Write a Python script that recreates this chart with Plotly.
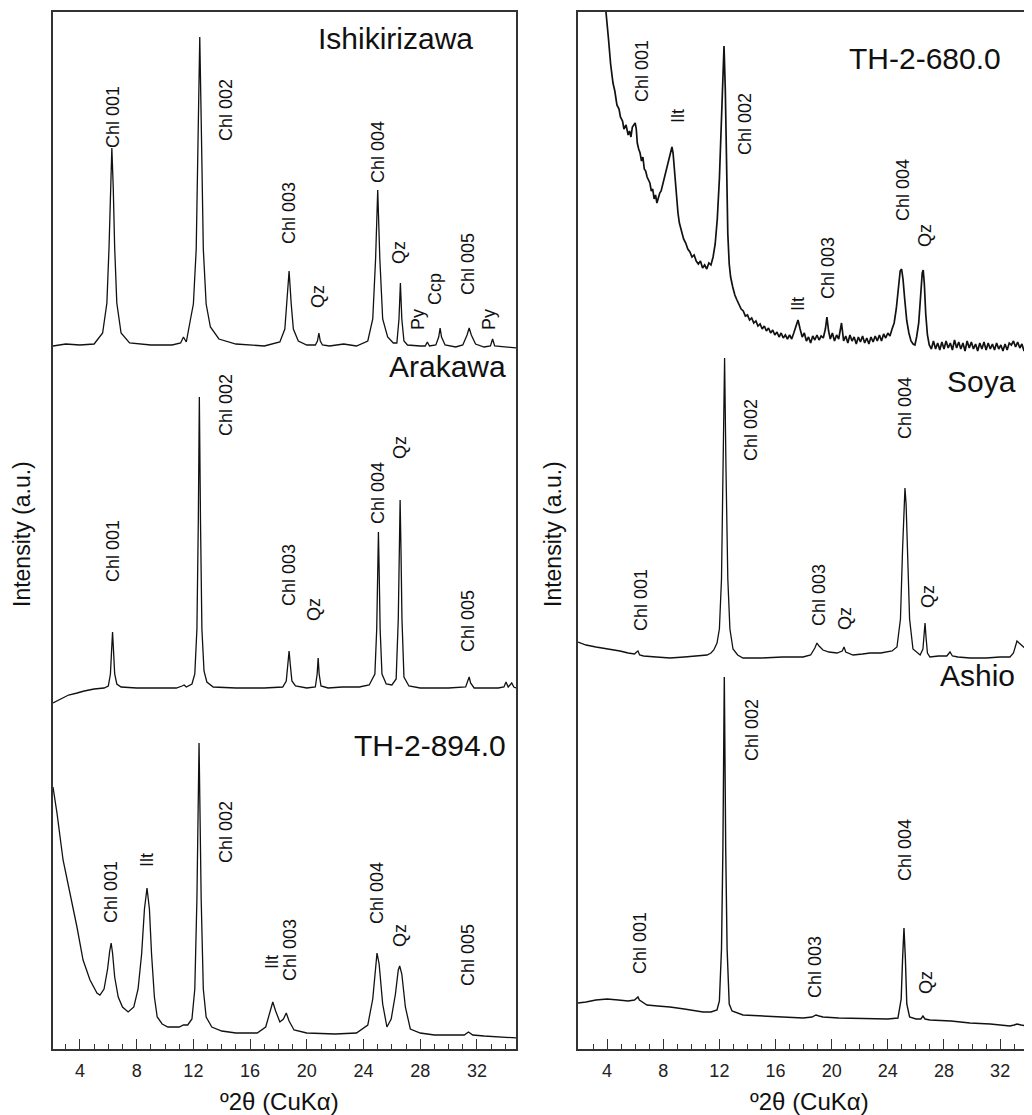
import plotly.graph_objects as go

# ---------------- data (2theta, intensity a.u., stacked as drawn) ----------------
# Left panel
ishi_x = [2.1, 3.0, 4.0, 5.0, 5.6, 5.9, 6.05, 6.15, 6.25, 6.35, 6.45, 6.6, 6.9, 7.5, 9.0, 10.5,
          11.1, 11.3, 11.5, 11.8, 12.0, 12.2, 12.35, 12.45, 12.55, 12.7, 12.9, 13.2, 13.8, 15.0, 17.0,
          18.1, 18.45, 18.6, 18.75, 18.9, 19.05, 19.4, 20.0, 20.6, 20.75, 20.85, 20.95, 21.1, 21.6,
          22.6, 23.5, 24.3, 24.65, 24.85, 25.0, 25.15, 25.35, 25.7, 26.1, 26.35, 26.5, 26.6, 26.7,
          26.85, 27.1, 28.0, 28.35, 28.5, 28.65, 29.1, 29.3, 29.4, 29.5, 29.75, 30.5, 31.0, 31.3,
          31.45, 31.6, 31.9, 32.5, 32.95, 33.1, 33.25, 34.0, 34.8]
ishi_y = [703, 705, 704, 705, 716, 746, 801, 861, 901, 861, 801, 746, 716, 706, 704, 704,
          706, 712, 707, 730, 745, 800, 930, 1012, 930, 800, 745, 722, 710, 705, 703,
          707, 720, 745, 778, 745, 720, 708, 704, 704, 708, 716, 708, 704, 703,
          705, 703, 708, 730, 790, 859, 790, 730, 712, 706, 706, 730, 766, 730,
          708, 704, 703, 703, 707, 703, 704, 712, 721, 712, 704, 702, 704, 714,
          721, 714, 705, 702, 703, 710, 703, 702, 701]

arak_x = [2.1, 2.6, 3.2, 3.8, 4.3, 5.0, 5.7, 6.0, 6.15, 6.22, 6.3, 6.38, 6.45, 6.6, 6.9, 8.0,
          9.5, 10.8, 11.2, 11.35, 11.5, 11.9, 12.1, 12.25, 12.35, 12.42, 12.5, 12.6, 12.75, 12.95,
          13.4, 15.0, 17.0, 18.3, 18.55, 18.68, 18.75, 18.83, 18.95, 19.2, 20.0, 20.6, 20.73, 20.8,
          20.87, 21.0, 21.5, 22.5, 23.7, 24.4, 24.8, 24.93, 25.0, 25.05, 25.1, 25.17, 25.3, 25.6,
          26.0, 26.3, 26.45, 26.52, 26.58, 26.64, 26.71, 26.85, 27.2, 28.0, 30.0, 31.2, 31.35,
          31.45, 31.55, 31.8, 33.5, 33.9, 34.05, 34.2, 34.45, 34.6, 34.75]
arak_y = [346, 350, 354, 356, 358, 360, 361, 363, 375, 395, 417, 395, 375, 365, 362, 361,
          361, 361, 363, 364, 362, 365, 375, 420, 530, 652, 530, 420, 378, 367,
          362, 361, 361, 362, 368, 385, 398, 385, 368, 363, 361, 362, 375, 391,
          375, 363, 361, 362, 362, 364, 375, 420, 480, 517, 480, 420, 375, 365,
          364, 370, 430, 500, 549, 500, 430, 372, 363, 361, 361, 362, 367,
          372, 366, 361, 361, 362, 367, 362, 366, 362, 361]

th894_x = [2.1, 2.38, 2.81, 3.3, 3.79, 4.22, 4.71, 5.2, 5.41, 5.7, 5.95, 6.1, 6.2, 6.3, 6.45,
           6.7, 7.0, 7.4, 7.8, 8.1, 8.35, 8.55, 8.73, 8.9, 9.05, 9.25, 9.45, 9.8, 10.2, 11.0,
           11.3, 11.6, 11.9, 12.1, 12.25, 12.4, 12.55, 12.7, 12.9, 13.3, 14.0, 15.0, 16.5, 17.1,
           17.4, 17.6, 17.8, 18.1, 18.35, 18.55, 18.75, 19.1, 20.0, 22.0, 23.5, 24.3, 24.65, 24.85,
           24.95, 25.1, 25.35, 25.65, 25.95, 26.25, 26.45, 26.55, 26.7, 26.95, 27.3, 28.0, 29.0,
           30.0, 31.1, 31.4, 31.7, 32.5, 33.5, 34.8]
th894_y = [262, 236, 189, 156, 122, 89, 69, 56, 54, 60, 80, 98, 106, 96, 72,
           52, 42, 37, 42, 60, 95, 140, 161, 140, 95, 52, 32, 25, 22, 22,
           24, 24, 30, 60, 150, 306, 150, 60, 32, 22, 18, 16, 16, 22,
           38, 47, 38, 27, 30, 36, 28, 19, 16, 15, 16, 24, 50, 85,
           96, 85, 45, 22, 30, 55, 79, 83, 75, 42, 20, 16, 14,
           14, 14, 17, 14, 13, 12, 11]

# Right panel
th680_x = [3.0, 3.5, 3.92, 4.1, 4.25, 4.42, 4.55, 4.7, 4.85, 4.95, 5.1, 5.2, 5.35, 5.5, 5.6, 5.7,
           5.8, 5.9, 6.0, 6.08, 6.15, 6.25, 6.35, 6.45, 6.55, 6.65, 6.75, 6.85, 6.95, 7.05, 7.15,
           7.25, 7.35, 7.45, 7.55, 7.65, 7.75, 7.85, 7.95, 8.05, 8.15, 8.25, 8.35, 8.45, 8.55, 8.62,
           8.7, 8.78, 8.86, 8.95, 9.05, 9.15, 9.3, 9.45, 9.6, 9.75, 9.9, 10.05, 10.2, 10.35, 10.5,
           10.65, 10.8, 10.95, 11.1, 11.25, 11.4, 11.55, 11.7, 11.85, 12.0, 12.15, 12.25, 12.33,
           12.42, 12.5, 12.6, 12.7, 12.8, 12.95, 13.1, 13.25, 13.4, 13.55, 13.7, 13.85, 14.0, 14.15,
           14.3, 14.45, 14.6, 14.75, 14.9, 15.05, 15.2, 15.35, 15.5, 15.65, 15.8, 15.95, 16.1, 16.25,
           16.4, 16.55, 16.7, 16.85, 17.0, 17.15, 17.3, 17.45, 17.6, 17.75, 17.9, 18.05, 18.2, 18.35,
           18.5, 18.65, 18.8, 18.95, 19.1, 19.25, 19.4, 19.55, 19.66, 19.78, 19.9, 20.05, 20.2, 20.35,
           20.5, 20.7, 20.85, 21.0, 21.15, 21.3, 21.45, 21.6, 21.75, 21.9, 22.05, 22.2, 22.35, 22.5,
           22.65, 22.8, 22.95, 23.1, 23.25, 23.4, 23.55, 23.7, 23.85, 24.0, 24.15, 24.3, 24.45, 24.6,
           24.75, 24.88, 24.98, 25.08, 25.2, 25.35, 25.5, 25.65, 25.8, 25.93, 26.05, 26.2, 26.33,
           26.45, 26.52, 26.6, 26.7, 26.82, 26.95, 27.1, 27.25, 27.4, 27.55, 27.7, 27.85, 28.0,
           28.15, 28.3, 28.45, 28.6, 28.75, 28.9, 29.05, 29.2, 29.35, 29.5, 29.65, 29.8, 29.95,
           30.1, 30.25, 30.4, 30.55, 30.7, 30.85, 31.0, 31.15, 31.3, 31.45, 31.6, 31.75, 31.9,
           32.05, 32.2, 32.35, 32.5, 32.65, 32.8, 32.95, 33.1, 33.25, 33.4, 33.55, 33.7, 33.85,
           34.0, 34.15, 34.3]
th680_y = [1250, 1130, 1037, 1010, 985, 966, 958, 944, 940, 932, 928, 920, 924, 914, 918, 912,
           922, 924, 926, 920, 906, 900, 896, 888, 892, 880, 878, 872, 868, 866, 858,
           860, 850, 854, 846, 852, 856, 858, 864, 868, 874, 880, 886, 894, 900, 902,
           896, 882, 866, 850, 836, 826, 818, 810, 806, 800, 797, 792, 794, 788, 785,
           788, 781, 784, 780, 786, 784, 792, 805, 830, 870, 930, 975, 1003,
           960, 880, 815, 785, 772, 762, 754, 749, 744, 740, 738, 733, 734, 729,
           731, 726, 728, 723, 725, 720, 723, 718, 721, 716, 719, 714, 717, 712,
           716, 711, 714, 710, 714, 710, 716, 722, 729, 720, 712, 716, 708, 712,
           706, 713, 709, 714, 709, 713, 711, 720, 732, 718, 710, 716, 708, 714,
           710, 726, 708, 713, 706, 714, 708, 712, 705, 712, 707, 713, 706, 711,
           705, 712, 707, 713, 708, 714, 708, 715, 711, 716, 713, 720, 726, 740,
           760, 778, 780, 770, 750, 728, 716, 708, 705, 704, 712, 726, 752,
           776, 779, 765, 735, 714, 704, 700, 708, 700, 706, 699, 707, 700,
           708, 701, 706, 699, 709, 701, 707, 700, 706, 698, 708, 701, 707,
           700, 705, 698, 706, 700, 707, 699, 706, 700, 705, 699, 706, 700,
           704, 698, 705, 699, 706, 704, 708, 702, 707, 701, 705, 698, 702,
           695, 699, 694]

soya_x = [1.93, 2.5, 3.2, 3.71, 4.4, 4.92, 5.5, 5.95, 6.1, 6.2, 6.32, 6.6, 7.5, 8.48, 9.5, 10.5,
          11.12, 11.4, 11.6, 11.83, 12.0, 12.15, 12.27, 12.37, 12.47, 12.6, 12.75, 12.97, 13.3,
          13.68, 15.0, 16.5, 17.96, 18.5, 18.8, 18.95, 19.1, 19.38, 19.8, 20.38, 20.75, 20.88,
          21.0, 21.52, 22.2, 22.73, 23.5, 24.3, 24.65, 24.9, 25.05, 25.15, 25.22, 25.3, 25.42,
          25.55, 25.79, 26.3, 26.5, 26.58, 26.65, 26.72, 26.82, 27.0, 27.6, 28.2, 28.43, 28.6,
          29.0, 29.85, 31.0, 32.0, 32.7, 32.95, 33.1, 33.2, 33.35, 33.63, 33.9, 34.27]
soya_y = [407, 404, 402, 401, 399, 398, 396, 395, 397, 398, 394, 393, 392, 391, 392, 393,
          394, 396, 399, 406, 420, 470, 580, 691, 580, 470, 420, 400, 394,
          391, 391, 392, 392, 394, 401, 406, 403, 399, 397, 396, 398, 402,
          397, 394, 395, 396, 396, 398, 402, 430, 500, 545, 561, 545, 490,
          430, 400, 394, 400, 415, 426, 412, 396, 392, 393, 393, 397, 393,
          392, 391, 391, 392, 392, 396, 404, 408, 406, 402, 399, 397]

ashio_x = [1.93, 2.5, 3.2, 4.0, 4.8, 5.5, 5.95, 6.1, 6.2, 6.3, 6.84, 7.6, 8.48, 9.5, 10.83,
           11.4, 11.83, 12.0, 12.15, 12.25, 12.35, 12.45, 12.55, 12.7, 12.9, 13.68, 15.0, 16.5,
           17.96, 18.6, 18.88, 19.1, 19.38, 20.5, 22.73, 24.0, 24.72, 24.95, 25.05, 25.15, 25.25,
           25.35, 25.55, 26.0, 26.35, 26.5, 26.65, 27.0, 28.5, 29.85, 31.3, 32.7, 33.0, 33.2,
           33.5, 34.27]
ashio_y = [46, 47, 49, 50, 49, 48, 49, 51, 52, 49, 44, 43, 42, 40, 37,
           37, 39, 48, 100, 200, 372, 200, 100, 45, 38, 34, 33, 32,
           31, 32, 34, 33, 32, 31, 30, 30, 31, 50, 90, 121, 90,
           45, 32, 30, 30, 33, 30, 29, 28, 26, 25, 23, 24, 25,
           24, 22]

# peak labels (text, 2theta, intensity position)
left_lab_text = ["Chl 001", "Chl 002", "Chl 003", "Qz", "Chl 004", "Qz", "Py", "Ccp", "Chl 005", "Py",
                 "Chl 001", "Chl 002", "Chl 003", "Qz", "Chl 004", "Qz", "Chl 005",
                 "Chl 001", "Ilt", "Chl 002", "Ilt", "Chl 003", "Chl 004", "Qz", "Chl 005"]
left_lab_x = [6.33, 14.3, 18.74, 20.79, 25.02, 26.5, 27.84, 29.04, 31.37, 32.84,
              6.33, 14.3, 18.74, 20.5, 25.02, 26.57, 31.37,
              6.19, 8.73, 14.3, 17.54, 18.81, 24.95, 26.57, 31.37]
left_lab_y = [932, 939, 836, 752, 897, 797, 730, 760, 785, 730,
              498, 644, 474, 440, 556, 602, 428,
              157, 189, 217, 87, 99, 156, 114, 94]

right_lab_text = ["Chl 001", "Ilt", "Chl 002", "Ilt", "Chl 003", "Chl 004", "Qz",
                  "Chl 001", "Chl 002", "Chl 003", "Qz", "Chl 004", "Qz",
                  "Chl 001", "Chl 002", "Chl 003", "Chl 004", "Qz"]
right_lab_x = [6.49, 9.05, 13.82, 17.6, 19.74, 25.08, 26.64,
               6.42, 14.25, 19.1, 20.95, 25.22, 26.86,
               6.35, 14.32, 18.81, 25.22, 26.72]
right_lab_y = [978, 933, 925, 745, 781, 859, 814,
               449, 619, 454, 430, 641, 453,
               106, 319, 82, 199, 66]

left_names = ["Ishikirizawa", "Arakawa", "TH-2-894.0"]
left_name_x = [31.85, 34.2, 34.2]
left_name_y = [1011, 683, 304]
right_names = ["TH-2-680.0", "Soya", "Ashio"]
right_name_x = [26.65, 33.27, 33.2]
right_name_y = [991, 668, 374]

x_ticks = [4, 8, 12, 16, 20, 24, 28, 32]

# ---------------- figure ----------------
FONT = "Liberation Sans, Arial, sans-serif"
LINE = "#111111"
FRAME = "#333333"

fig = go.Figure()
for xs, ys in [(ishi_x, ishi_y), (arak_x, arak_y), (th894_x, th894_y)]:
    fig.add_trace(go.Scatter(x=xs, y=ys, mode="lines", line=dict(color=LINE, width=1.3),
                             xaxis="x", yaxis="y", showlegend=False, hoverinfo="skip"))
for xs, ys, w in [(th680_x, th680_y, 1.7), (soya_x, soya_y, 1.3), (ashio_x, ashio_y, 1.4)]:
    fig.add_trace(go.Scatter(x=xs, y=ys, mode="lines", line=dict(color=LINE, width=w),
                             xaxis="x2", yaxis="y2", showlegend=False, hoverinfo="skip"))

ann = []
for t, x, y in zip(left_lab_text, left_lab_x, left_lab_y):
    ann.append(dict(text=t, x=x, y=y, xref="x", yref="y", textangle=-90, showarrow=False,
                    xanchor="center", yanchor="middle",
                    font=dict(family=FONT, size=18, color="#111")))
for t, x, y in zip(right_lab_text, right_lab_x, right_lab_y):
    ann.append(dict(text=t, x=x, y=y, xref="x2", yref="y2", textangle=-90, showarrow=False,
                    xanchor="center", yanchor="middle",
                    font=dict(family=FONT, size=18, color="#111")))
for t, x, y in zip(left_names, left_name_x, left_name_y):
    ann.append(dict(text=t, x=x, y=y, xref="x", yref="y", showarrow=False, xanchor="right",
                    yanchor="middle", font=dict(family=FONT, size=30, color="#111")))
for t, x, y in zip(right_names, right_name_x, right_name_y):
    ann.append(dict(text=t, x=x, y=y, xref="x2", yref="y2", showarrow=False,
                    xanchor="center" if t == "TH-2-680.0" else "right",
                    yanchor="middle", font=dict(family=FONT, size=30, color="#111")))
# axis titles
for xr, xv in [("x", 18.1), ("x2", 18.45)]:
    ann.append(dict(text="º2θ (CuKα)", x=xv, y=-0.0502, xref=xr, yref="paper", showarrow=False,
                    xanchor="center", yanchor="middle",
                    font=dict(family=FONT, size=24, color="#111")))
for xv in [-0.0317, 0.5107]:
    ann.append(dict(text="Intensity (a.u.)", x=xv, y=0.4966, xref="paper", yref="paper",
                    textangle=-90, showarrow=False, xanchor="center", yanchor="middle",
                    font=dict(family=FONT, size=23, color="#111")))

xa_common = dict(tickvals=x_ticks, ticks="inside", ticklen=10, tickwidth=1, tickcolor=FRAME,
                 showline=True, linecolor=FRAME, linewidth=1.6, mirror=True, showgrid=False,
                 zeroline=False, ticklabelstandoff=5,
                 tickfont=dict(family=FONT, size=18, color="#222"),
                 minor=dict(dtick=1, tick0=0, ticks="inside", ticklen=5, tickcolor=FRAME, showgrid=False))
# page has an 8px body margin: figure is 8px smaller so the plot lands where the reference has it
fig.update_layout(
    width=1024, height=1107,
    margin=dict(l=45, r=0, t=4, b=66),
    paper_bgcolor="white", plot_bgcolor="white",
    xaxis=dict(domain=[0, 0.4729], range=[2.1, 34.75], **xa_common),
    xaxis2=dict(domain=[0.5363, 1.0], range=[1.93, 34.27], anchor="y2", **xa_common),
    yaxis=dict(range=[0, 1037], showticklabels=False, ticks="", showline=True, linecolor=FRAME,
               linewidth=1.6, mirror=True, showgrid=False, zeroline=False),
    yaxis2=dict(range=[0, 1037], showticklabels=False, ticks="", showline=True, linecolor=FRAME,
                linewidth=1.6, mirror=False, showgrid=False, zeroline=False, anchor="x2"),
    annotations=ann,
)
fig.write_html("out.html")
